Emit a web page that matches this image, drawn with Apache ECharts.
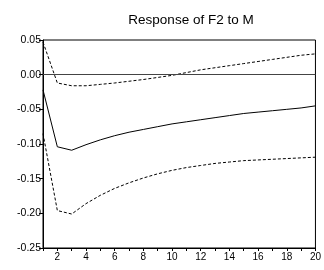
<!DOCTYPE html>
<html>
<head>
<meta charset="utf-8">
<script src="https://cdn.jsdelivr.net/npm/echarts@6/dist/echarts.min.js"></script>
<style>html,body{margin:0;padding:0;background:#fff;}#c{width:324px;height:270px;}</style>
</head>
<body>
<div id="c"></div>
<script>
var periods = [1,2,3,4,5,6,7,8,9,10,11,12,13,14,15,16,17,18,19,20];
var response = [-0.022,-0.104,-0.109,-0.101,-0.094,-0.088,-0.083,-0.079,-0.075,-0.071,-0.068,-0.065,-0.062,-0.059,-0.056,-0.054,-0.052,-0.050,-0.048,-0.045];
var upperBand = [0.047,-0.012,-0.016,-0.016,-0.014,-0.012,-0.0095,-0.007,-0.004,-0.001,0.003,0.007,0.010,0.013,0.016,0.019,0.022,0.025,0.028,0.030];
var lowerBand = [-0.085,-0.196,-0.201,-0.186,-0.174,-0.164,-0.156,-0.149,-0.143,-0.138,-0.134,-0.131,-0.128,-0.126,-0.124,-0.123,-0.122,-0.121,-0.120,-0.119];
var yTicks = [-0.25,-0.20,-0.15,-0.10,-0.05,0.00,0.05];

function pairs(v){ return periods.map(function(p,i){return [p, v[i]];}); }

var chart = echarts.init(document.getElementById('c'), null, {renderer:'canvas'});
chart.setOption({
  animation:false,
  title:{text:'Response of F2 to M', left:186, top:8, textAlign:'center',
    textStyle:{fontFamily:'Liberation Sans', fontSize:13.5, fontWeight:'normal', color:'#000'}},
  grid:{left:43, right:5, top:40, bottom:22, show:true, borderColor:'#000', borderWidth:1},
  xAxis:{type:'value', min:1, max:20, interval:1,
    axisLine:{show:true, onZero:false, lineStyle:{color:'#000', width:1}},
    axisTick:{show:true, inside:false, length:3, lineStyle:{color:'#000'}},
    axisLabel:{fontFamily:'Liberation Sans', fontSize:10, color:'#000', margin:4,
      formatter:function(v){ return (v % 2 === 0) ? String(v) : ''; }},
    splitLine:{show:false}},
  yAxis:{type:'value', min:-0.25, max:0.05, interval:0.05,
    axisLine:{show:true, onZero:false, lineStyle:{color:'#000', width:1}},
    axisTick:{show:true, inside:false, length:4, lineStyle:{color:'#000'}},
    axisLabel:{fontFamily:'Liberation Sans', fontSize:10.5, color:'#000', margin:2,
      formatter:function(v){ return v.toFixed(2); }},
    splitLine:{show:false}},
  series:[
    {type:'line', data:pairs(response), symbol:'none', lineStyle:{color:'#000', width:1},
      markLine:{silent:true, symbol:'none', label:{show:false},
        lineStyle:{color:'#444', type:'solid', width:1}, data:[{yAxis:0}]}},
    {type:'line', data:pairs(upperBand), symbol:'none', lineStyle:{color:'#000', width:1, type:[3,2]}},
    {type:'line', data:pairs(lowerBand), symbol:'none', lineStyle:{color:'#000', width:1, type:[3,2]}}
  ]
});
</script>
</body>
</html>
